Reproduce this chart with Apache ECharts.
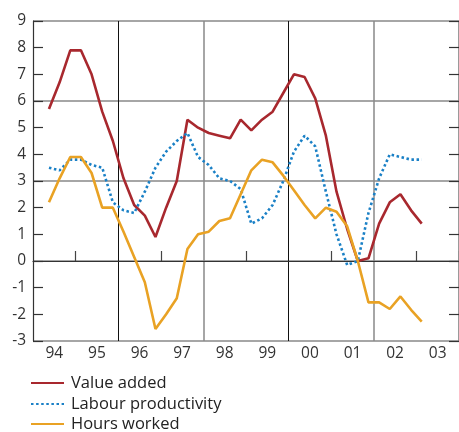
<!DOCTYPE html>
<html>
<head>
<meta charset="utf-8">
<script src="https://cdn.jsdelivr.net/npm/echarts@6/dist/echarts.min.js"></script>
<style>html,body{margin:0;padding:0;background:#fff}#c{width:459px;height:432px}</style>
</head>
<body>
<div id="c"></div>
<script>
// Year labels shown on the x axis
var years = ['94','95','96','97','98','99','00','01','02','03'];
// Quarterly series, 1994 Q2 to 2003 Q1
var valueAdded = [5.7, 6.7, 7.9, 7.9, 7.0, 5.6, 4.5, 3.1, 2.1, 1.7, 0.9, 2.0, 3.0, 5.3, 5.0, 4.8, 4.7, 4.6, 5.3, 4.9, 5.3, 5.6, 6.3, 7.0, 6.9, 6.1, 4.7, 2.6, 1.2, 0.0, 0.1, 1.4, 2.2, 2.5, 1.9, 1.4];
var labourProductivity = [3.5, 3.4, 3.8, 3.8, 3.6, 3.5, 2.2, 1.9, 1.8, 2.6, 3.5, 4.1, 4.5, 4.8, 3.9, 3.6, 3.1, 3.0, 2.7, 1.4, 1.6, 2.1, 3.0, 4.1, 4.7, 4.3, 2.6, 1.0, -0.15, 0.0, 1.8, 3.1, 4.0, 3.9, 3.8, 3.8];
var hoursWorked = [2.2, 3.1, 3.9, 3.9, 3.3, 2.0, 2.0, 1.1, 0.15, -0.8, -2.55, -2.0, -1.4, 0.45, 1.0, 1.1, 1.5, 1.6, 2.5, 3.4, 3.8, 3.7, 3.2, 2.65, 2.1, 1.6, 2.0, 1.85, 1.3, 0.0, -1.55, -1.55, -1.8, -1.33, -1.83, -2.27];
var yTicks = {min: -3, max: 9, step: 1};
var seriesNames = ['Value added', 'Labour productivity', 'Hours worked'];

var quarters = [];
years.forEach(function (y) { ['Q1','Q2','Q3','Q4'].forEach(function (q) { quarters.push(y + q); }); });
function pad(arr) { return [null].concat(arr, [null, null, null]); }

var font = 'Open Sans';
var legendTops = [374.5, 395.5, 415.5];
var legends = seriesNames.map(function (n, k) {
  return {
    orient: 'vertical', left: 30, top: legendTops[k], padding: 0,
    itemWidth: 33, itemHeight: 14,
    data: [n],
    itemStyle: {opacity: 0},
    textStyle: {fontSize: 16.5, color: '#222', fontFamily: font, padding: [0, 0, 0, 2]}
  };
});

var chart = echarts.init(document.getElementById('c'), null, {renderer: 'canvas'});
chart.setOption({
  animation: false,
  backgroundColor: '#fff',
  grid: {left: 33, top: 21, width: 428, height: 320, containLabel: false},
  legend: legends,
  xAxis: [
    {
      type: 'category', data: years, position: 'bottom', boundaryGap: true,
      axisLine: {show: true, lineStyle: {color: '#333', width: 1.2}},
      axisTick: {show: false},
      axisLabel: {fontSize: 15.5, color: '#333', fontFamily: font, margin: 5},
      splitLine: {show: false}
    },
    {
      type: 'category', data: quarters, position: 'bottom', boundaryGap: true,
      axisLine: {show: false},
      axisLabel: {show: false},
      axisTick: {show: true, inside: true, length: 10, interval: function (i) { return i % 8 === 4; }, lineStyle: {color: '#444', width: 1.2}},
      splitLine: {show: true, interval: function (i) { return i === 8 || i === 24; }, lineStyle: {color: '#111', width: 1}}
    },
    {
      type: 'category', data: quarters, position: 'bottom', boundaryGap: true,
      axisLine: {show: false}, axisLabel: {show: false}, axisTick: {show: false},
      splitLine: {show: true, interval: function (i) { return i === 16 || i === 32; }, lineStyle: {color: '#888', width: 1.5}}
    }
  ],
  yAxis: [
    {
      type: 'value', position: 'left', min: yTicks.min, max: yTicks.max, interval: yTicks.step,
      axisLine: {show: true, lineStyle: {color: '#333', width: 1.2}},
      axisTick: {show: true, inside: true, length: 10, lineStyle: {color: '#333', width: 1.2}},
      axisLabel: {fontSize: 15.5, color: '#333', fontFamily: font, margin: 7},
      splitLine: {show: false}
    },
    {
      type: 'value', position: 'right', min: yTicks.min, max: yTicks.max, interval: yTicks.step,
      axisLine: {show: true, lineStyle: {color: '#333', width: 1.2}},
      axisTick: {show: true, inside: true, length: 10, lineStyle: {color: '#333', width: 1.2}},
      axisLabel: {show: false},
      splitLine: {show: false}
    },
    {
      type: 'value', position: 'left', min: yTicks.min, max: yTicks.max, interval: 3,
      axisLine: {show: false}, axisTick: {show: false}, axisLabel: {show: false},
      splitLine: {show: true, lineStyle: {color: '#888', width: 1.5}}
    }
  ],
  series: [
    {
      name: seriesNames[0], type: 'line', xAxisIndex: 1, yAxisIndex: 0, symbol: 'none',
      data: pad(valueAdded), color: '#A8282E',
      lineStyle: {color: '#A8282E', width: 2.6}
    },
    {
      name: seriesNames[1], type: 'line', xAxisIndex: 1, yAxisIndex: 0, symbol: 'none',
      data: pad(labourProductivity), color: '#1A80C6',
      lineStyle: {color: '#1A80C6', width: 2.6, type: [2.5, 2.6]}
    },
    {
      name: seriesNames[2], type: 'line', xAxisIndex: 1, yAxisIndex: 0, symbol: 'none',
      data: pad(hoursWorked), color: '#E9A224',
      lineStyle: {color: '#E9A224', width: 2.6}
    }
  ]
});
</script>
</body>
</html>
